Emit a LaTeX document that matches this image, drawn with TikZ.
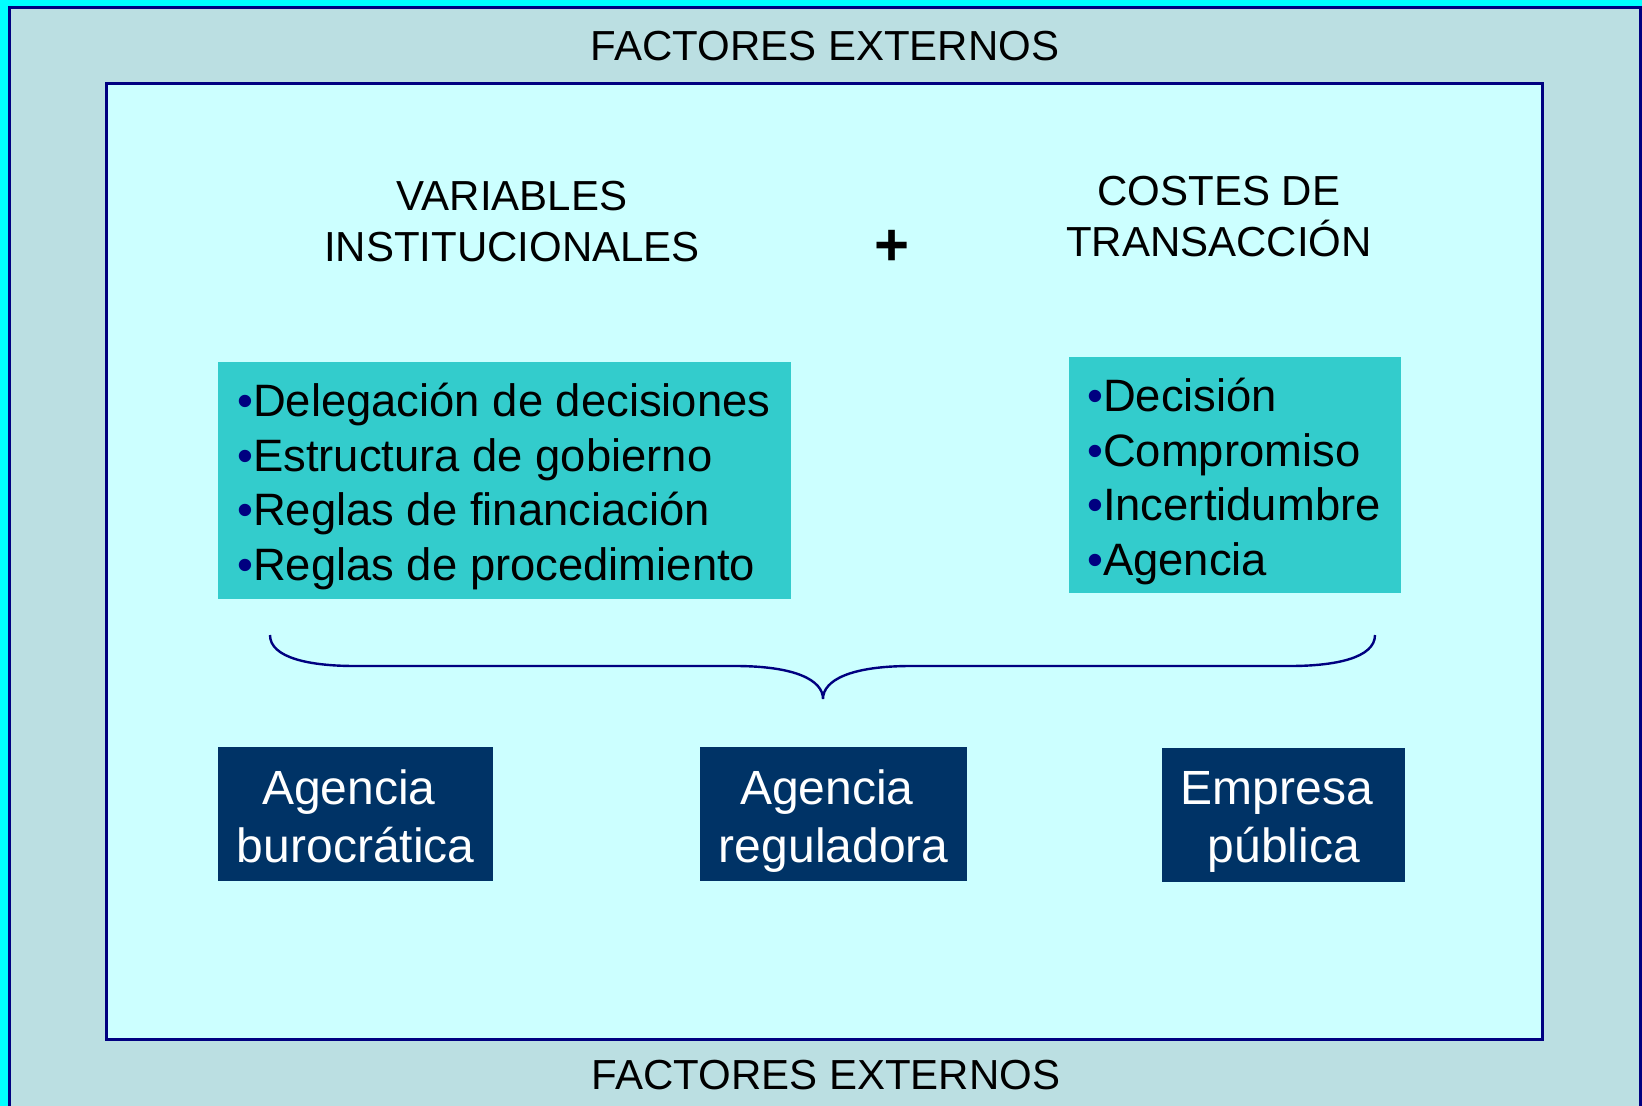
\documentclass[tikz,border=0pt]{standalone}
\usepackage{fontspec}
\setmainfont{Liberation Sans}
\definecolor{edgecyan}{HTML}{00FFFF}
\definecolor{outerfill}{HTML}{BBDFE2}
\definecolor{innerfill}{HTML}{CCFFFF}
\definecolor{navy}{HTML}{000080}
\definecolor{tealbox}{HTML}{33CCCC}
\definecolor{darkbox}{HTML}{003366}
\newcommand{\bul}{{\color{navy}•}}
\newcommand{\trsp}{\hspace*{0.28em}}
\tikzset{
  hdr/.style={font=\fontsize{42}{51}\selectfont, align=center, inner sep=0pt},
  listbox/.style={fill=tealbox, anchor=north west, inner sep=0pt},
  listtext/.style={font=\fontsize{45.4}{54.5}\selectfont, align=left, anchor=west, inner sep=0pt},
  agbox/.style={fill=darkbox, anchor=north west, inner sep=0pt},
  agtext/.style={text=white, font=\fontsize{48}{58}\selectfont, align=center, inner sep=0pt},
  bracestyle/.style={draw=navy, line width=2.4pt}
}
\begin{document}
\begin{tikzpicture}[x=1pt,y=-1pt]
\useasboundingbox (0,0) rectangle (1642,1106);
\fill[edgecyan] (0,0) rectangle (1642,1106);
\draw[navy, line width=2.5pt, fill=outerfill] (9.5,7.5) rectangle (1640.5,1115);
\draw[navy, line width=3pt, fill=innerfill] (106,83) rectangle (1542,1039);

\node[hdr] (fe1) at (825,46) {FACTORES EXTERNOS};
\node[hdr] (fe2) at (826,1075) {FACTORES EXTERNOS};

\node[hdr] (var) at (512,221.5) {VARIABLES\\INSTITUCIONALES};
\node[hdr] (cos) at (1219,217) {COSTES DE\\TRANSACCIÓN};
\node[font=\fontsize{60}{60}\bfseries\selectfont, inner sep=0pt] (plus) at (892,248) {+};

\node[listbox, minimum width=573pt, minimum height=237pt] (left) at (218,362) {};
\node[listtext] (leftT) at (237,486.5)
  {\bul Delegación de decisiones\\\bul Estructura de gobierno\\\bul Reglas de financiación\\\bul Reglas de procedimiento};
\node[listbox, minimum width=332pt, minimum height=236pt] (right) at (1069,357) {};
\node[listtext] (rightT) at (1087,481.5)
  {\bul Decisión\\\bul Compromiso\\\bul Incertidumbre\\\bul Agencia};

\path[bracestyle] (270,635) .. controls (270,658) and (310,666) .. (355,666)
  -- (735,666) .. controls (795,666) and (823,680) .. (823,699)
  .. controls (823,680) and (851,666) .. (911,666)
  -- (1290,666) .. controls (1335,666) and (1375,658) .. (1375,635);

\node[agbox, minimum width=275pt, minimum height=134pt] (buro) at (218,747) {};
\node[agtext] (buroT) at ([yshift=-7pt]buro.center) {Agencia\trsp\\burocrática\vphantom{g}};
\node[agbox, minimum width=267pt, minimum height=134pt] (regu) at (700,747) {};
\node[agtext] (reguT) at ([yshift=-7pt]regu.center) {Agencia\trsp\\reguladora};
\node[agbox, minimum width=243pt, minimum height=134pt] (empr) at (1162,748) {};
\node[agtext] (emprT) at ([yshift=-7pt]empr.center) {Empresa\trsp\\pública};
\end{tikzpicture}
\end{document}
